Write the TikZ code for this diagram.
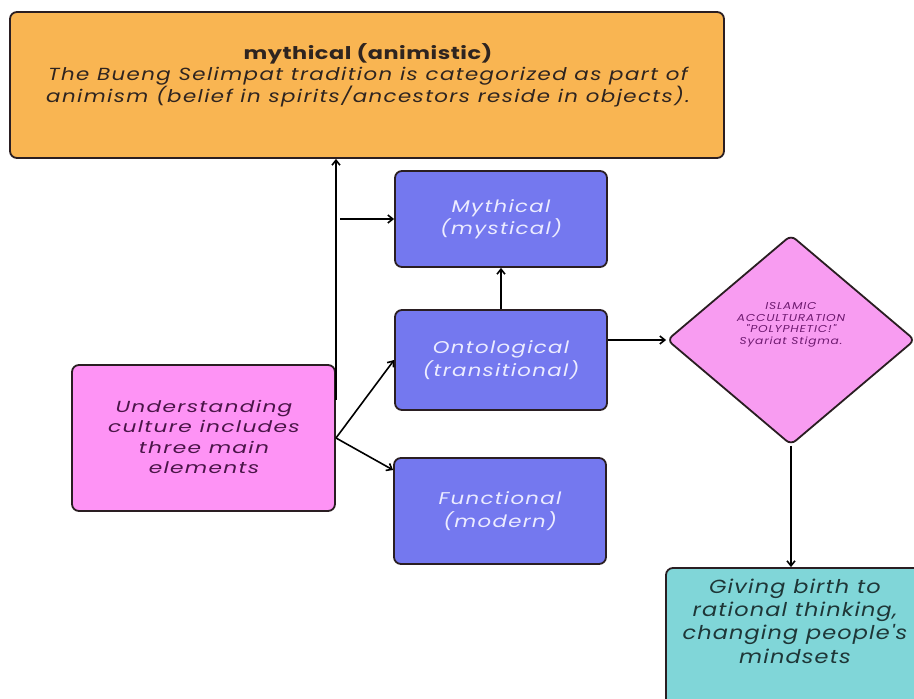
\documentclass[tikz,border=0pt]{standalone}
\usepackage{fontspec}
\setmainfont{Poppins}
\newfontfamily\topfont[LetterSpace=8,FakeStretch=1.22]{Poppins}
\newfontfamily\titlefont[LetterSpace=3,FakeStretch=1.28]{Poppins}
\newfontfamily\bluefont[LetterSpace=8,FakeStretch=1.25]{Poppins}
\newfontfamily\undfont[LetterSpace=8,FakeStretch=1.36]{Poppins}
\newfontfamily\tealfont[LetterSpace=6,FakeStretch=1.18]{Poppins}
\newfontfamily\diafont[LetterSpace=8,FakeStretch=1.22]{Poppins}
\usetikzlibrary{shapes.geometric,arrows.meta}
\definecolor{orangebox}{HTML}{F9B552}
\definecolor{bluebox}{HTML}{7478EF}
\definecolor{pinkbox}{HTML}{FE93F5}
\definecolor{diabox}{HTML}{F89CF1}
\definecolor{tealbox}{HTML}{80D6D8}
\definecolor{edge}{HTML}{2A1E22}
\definecolor{bluetext}{HTML}{ECECFF}
\definecolor{pinktext}{HTML}{4A1548}
\definecolor{diatext}{HTML}{6E1A70}
\definecolor{tealtext}{HTML}{1E3637}
\definecolor{toptext}{HTML}{2E2420}
\tikzset{
  boxbase/.style={draw=edge, line width=1.8pt, rounded corners=7pt, inner sep=0pt},
  bluestyle/.style={boxbase, fill=bluebox, minimum width=212pt},
  bluelabel/.style={text=bluetext, align=center, font=\bluefont\fontsize{17}{22.5}\selectfont\itshape},
  arr/.style={draw=black, line width=1.6pt, -{Straight Barb[length=5pt,width=8pt]}},
}
\begin{document}
\begin{tikzpicture}[x=1pt,y=-1pt]
\useasboundingbox[fill=white] (0,0) rectangle (914,699);
% top box
\node[boxbase, fill=orangebox, minimum width=714pt, minimum height=146pt] (top) at (367,85) {};
\node[align=center, text=toptext, font=\fontsize{17.5}{21.5}\selectfont] (toplbl) at (368,75)
  {{\titlefont\bfseries mythical (animistic)}\\
   {\topfont\itshape The Bueng Selimpat tradition is categorized as part of}\\
   {\topfont\itshape animism (belief in spirits/ancestors reside in objects).}};
% blue boxes
\node[bluestyle, minimum height=96pt] (myth) at (501,219) {};
\node[bluelabel] (mythl) at (myth.center) {Mythical\\(mystical)};
\node[bluestyle, minimum height=100pt] (ont) at (501,360) {};
\node[bluelabel] (ontl) at (ont.center) {Ontological\\(transitional)};
\node[bluestyle, minimum height=106pt] (fun) at (500,511) {};
\node[bluelabel] (funl) at (fun.center) {Functional\\(modern)};
% understanding
\node[boxbase, fill=pinkbox, minimum width=263pt, minimum height=146pt] (und) at (203.5,438) {};
\node[align=center, text=pinktext, font=\undfont\fontsize{16}{20.5}\selectfont\itshape] (undl) at (204,437)
  {Understanding\\culture includes\\three main\\elements};
% diamond
\node[diamond, draw=edge, line width=1.8pt, rounded corners=6pt, fill=diabox, inner sep=0pt,
      minimum width=248pt, minimum height=210pt, aspect=1.18] (dia) at (791,340) {};
\node[align=center, text=diatext, font=\diafont\fontsize{10}{11.5}\selectfont\itshape] (dial) at (791,325)
  {ISLAMIC\\ACCULTURATION\\"POLYPHETIC!"\\Syariat Stigma.};
% teal
\node[boxbase, fill=tealbox, minimum width=258pt, minimum height=150pt] (teal) at (795,643) {};
\node[align=center, text=tealtext, font=\tealfont\fontsize{19}{23.3}\selectfont\itshape] (teall) at (795,621)
  {Giving birth to\\rational thinking,\\changing people's\\mindsets};
% connectors
\coordinate (v0) at (336,400);
\draw[arr] (v0) -- (v0 |- top.south);
\coordinate (b0) at (340,219);
\draw[arr] (b0) -- (b0 -| myth.west);
\coordinate (s) at (336,438);
\draw[arr] (s) -- (ont.west);
\draw[arr] (s) -- ([yshift=41pt]fun.west);
\draw[arr] (ont.north) -- (myth.south);
\draw[arr] ([yshift=20pt]ont.east) -- (dia.west);
\draw[arr] (dia.south) -- (teal.north -| dia.south);
\end{tikzpicture}
\end{document}
